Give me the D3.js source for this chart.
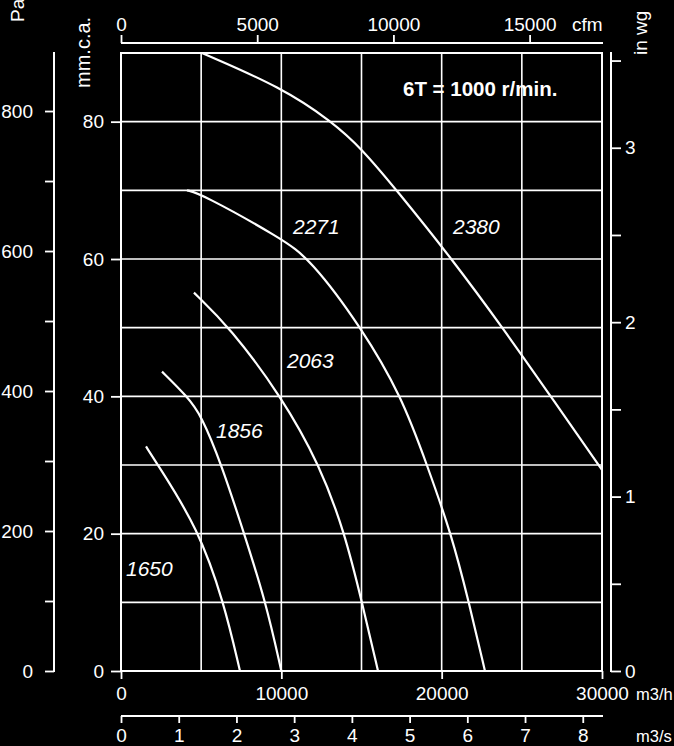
<!DOCTYPE html>
<html>
<head>
<meta charset="utf-8">
<script src="https://cdn.jsdelivr.net/npm/d3@7"></script>
<style>
  html, body { margin: 0; padding: 0; background: #000; }
  svg { display: block; }
  text { font-family: "Liberation Sans", Arial, sans-serif; fill: #fff; }
</style>
</head>
<body>
<script>
// ---- data (flow in m3/h, pressure in mm.c.a.) ----
const speeds = ["2380", "2271", "2063", "1856", "1650"];
const curve2380 = [[5050,90],[10000,85],[13160,80],[15000,76.1],[17200,70],[20640,60],[23800,50],[26800,40],[30000,29.3]];
const curve2271 = [[4116,70],[5000,69.5],[10000,63],[11800,60],[15000,50],[17500,40],[19085,30],[20600,20],[21700,10],[22700,0]];
const curve2063 = [[4550,55.1],[6800,50],[10000,40],[12400,30],[13970,20],[15030,10],[16030,0]];
const curve1856 = [[2557,43.6],[4116,40],[5000,37.3],[6280,30],[7610,20.5],[9040,10],[10000,0]];
const curve1650 = [[1560,32.7],[2300,30],[4800,20.8],[6420,10],[7420,0]];
const curves = [curve2380, curve2271, curve2063, curve1856, curve1650];
const labelAt = [[20707,63.7],[10728,63.7],[10353,44.15],[5925,33.95],[312,13.84]];

const m3hTicks = [0, 10000, 20000, 30000];
const m3hGrid = [5000, 10000, 15000, 20000, 25000];
const m3sTicks = [0,1,2,3,4,5,6,7,8];
const cfmTicks = [0, 5000, 10000, 15000];
const mmTicks = [0, 20, 40, 60, 80];
const mmGrid = [10,20,30,40,50,60,70,80];
const paTicks = [0,100,200,300,400,500,600,700,800];
const inwgTicks = [0,0.5,1,1.5,2,2.5,3,3.5];
const title = "6T = 1000 r/min.";

// ---- layout ----
const W = 674, H = 746;
const L = 121, R = 602, T = 53, B = 671;
const svg = d3.select("body").append("svg").attr("width", W).attr("height", H);
svg.append("rect").attr("width", W).attr("height", H).attr("fill", "#000");

const x = d3.scaleLinear([0, 30000], [L, R]);
const y = d3.scaleLinear([0, 90], [B, T]);
const yPa = d3.scaleLinear([0, 90 * 9.81], [B, T]);
const yIn = d3.scaleLinear([0, 90 / 25.4], [B, T]);
const xCfm = d3.scaleLinear([0, 30000 / 1.699], [L, R]);
const xS = d3.scaleLinear([0, 30000 / 3600], [L, R]);

const fmt = d3.format("d");
const FS = "19px";

// grid
const g = svg.append("g").attr("stroke", "#fff").attr("stroke-width", 1.6);
g.selectAll("line.h").data(mmGrid).join("line")
  .attr("x1", L).attr("x2", R).attr("y1", d => y(d)).attr("y2", d => y(d));
g.selectAll("line.v").data(m3hGrid).join("line")
  .attr("y1", T).attr("y2", B).attr("x1", d => x(d)).attr("x2", d => x(d));

// frame
svg.append("rect").attr("x", L).attr("y", T).attr("width", R - L).attr("height", B - T)
  .attr("fill", "none").attr("stroke", "#fff").attr("stroke-width", 2);

function styleAxis(sel) {
  sel.selectAll("line").attr("stroke", "#fff").attr("stroke-width", 1.8);
  sel.selectAll("text").attr("fill", "#fff").style("font-size", FS)
     .style("font-family", '"Liberation Sans", Arial, sans-serif');
}

// mm.c.a. axis
svg.append("g").attr("transform", `translate(${L},0)`)
  .call(d3.axisLeft(y).tickValues(mmTicks).tickFormat(fmt).tickSize(10).tickPadding(7).tickSizeOuter(0))
  .call(s => s.select(".domain").remove())
  .call(styleAxis);

// Pa axis
svg.append("g").attr("transform", `translate(54,0)`)
  .call(d3.axisLeft(yPa).tickValues(paTicks).tickFormat(d => d % 200 === 0 ? fmt(d) : "").tickSize(9).tickPadding(12).tickSizeOuter(0))
  .call(s => s.select(".domain").remove())
  .call(styleAxis);
svg.append("line").attr("x1", 54).attr("x2", 54).attr("y1", 52).attr("y2", B + 1)
  .attr("stroke", "#fff").attr("stroke-width", 2);

// in wg axis
svg.append("g").attr("transform", `translate(611,0)`)
  .call(d3.axisRight(yIn).tickValues(inwgTicks).tickFormat(d => Number.isInteger(d) ? fmt(d) : "").tickSize(10).tickPadding(4).tickSizeOuter(0))
  .call(s => s.select(".domain").remove())
  .call(styleAxis);
svg.append("line").attr("x1", 611).attr("x2", 611).attr("y1", 52).attr("y2", B + 1)
  .attr("stroke", "#fff").attr("stroke-width", 2);

// cfm axis
svg.append("g").attr("transform", `translate(0,43)`)
  .call(d3.axisTop(xCfm).tickValues(cfmTicks).tickFormat(fmt).tickSize(8).tickPadding(4).tickSizeOuter(0))
  .call(s => s.select(".domain").remove())
  .call(styleAxis);
svg.append("line").attr("x1", L).attr("x2", 603).attr("y1", 43).attr("y2", 43)
  .attr("stroke", "#fff").attr("stroke-width", 2);

// m3/h axis
svg.append("g").attr("transform", `translate(0,${B})`)
  .call(d3.axisBottom(x).tickValues(m3hTicks).tickFormat(fmt).tickSize(8).tickPadding(7.5).tickSizeOuter(0))
  .call(s => s.select(".domain").remove())
  .call(styleAxis);

// m3/s axis
svg.append("g").attr("transform", `translate(0,716)`)
  .call(d3.axisBottom(xS).tickValues(m3sTicks).tickFormat(fmt).tickSize(7).tickPadding(6).tickSizeOuter(0))
  .call(s => s.select(".domain").remove())
  .call(styleAxis);
svg.append("line").attr("x1", L).attr("x2", 603).attr("y1", 716).attr("y2", 716)
  .attr("stroke", "#fff").attr("stroke-width", 2);

// unit labels
svg.append("text").attr("x", 572).attr("y", 31).style("font-size", FS).text("cfm");
svg.append("text").attr("x", 636).attr("y", 700).style("font-size", "16.5px").text("m3/h");
svg.append("text").attr("x", 636).attr("y", 742).style("font-size", "16.5px").text("m3/s");
svg.append("text").attr("transform", "translate(24,22) rotate(-90)").style("font-size", FS).text("Pa");
svg.append("text").attr("transform", "translate(90,88) rotate(-90)").style("font-size", "20px").text("mm.c.a.");
svg.append("text").attr("transform", "translate(647,55) rotate(-90)").style("font-size", FS).text("in wg");

// title
svg.append("text").attr("x", 403).attr("y", 96).style("font-size", "20.5px").style("font-weight", "bold").text(title);

// curves
const line = d3.line().x(d => x(d[0])).y(d => y(d[1])).curve(d3.curveBasis);
svg.append("g").selectAll("path").data(curves).join("path")
  .attr("d", line).attr("fill", "none").attr("stroke", "#fff").attr("stroke-width", 2.2);

// curve labels
svg.append("g").selectAll("text").data(speeds).join("text")
  .attr("x", (d, i) => x(labelAt[i][0])).attr("y", (d, i) => y(labelAt[i][1]))
  .style("font-size", "21px").style("font-style", "italic").text(d => d);
</script>
</body>
</html>
